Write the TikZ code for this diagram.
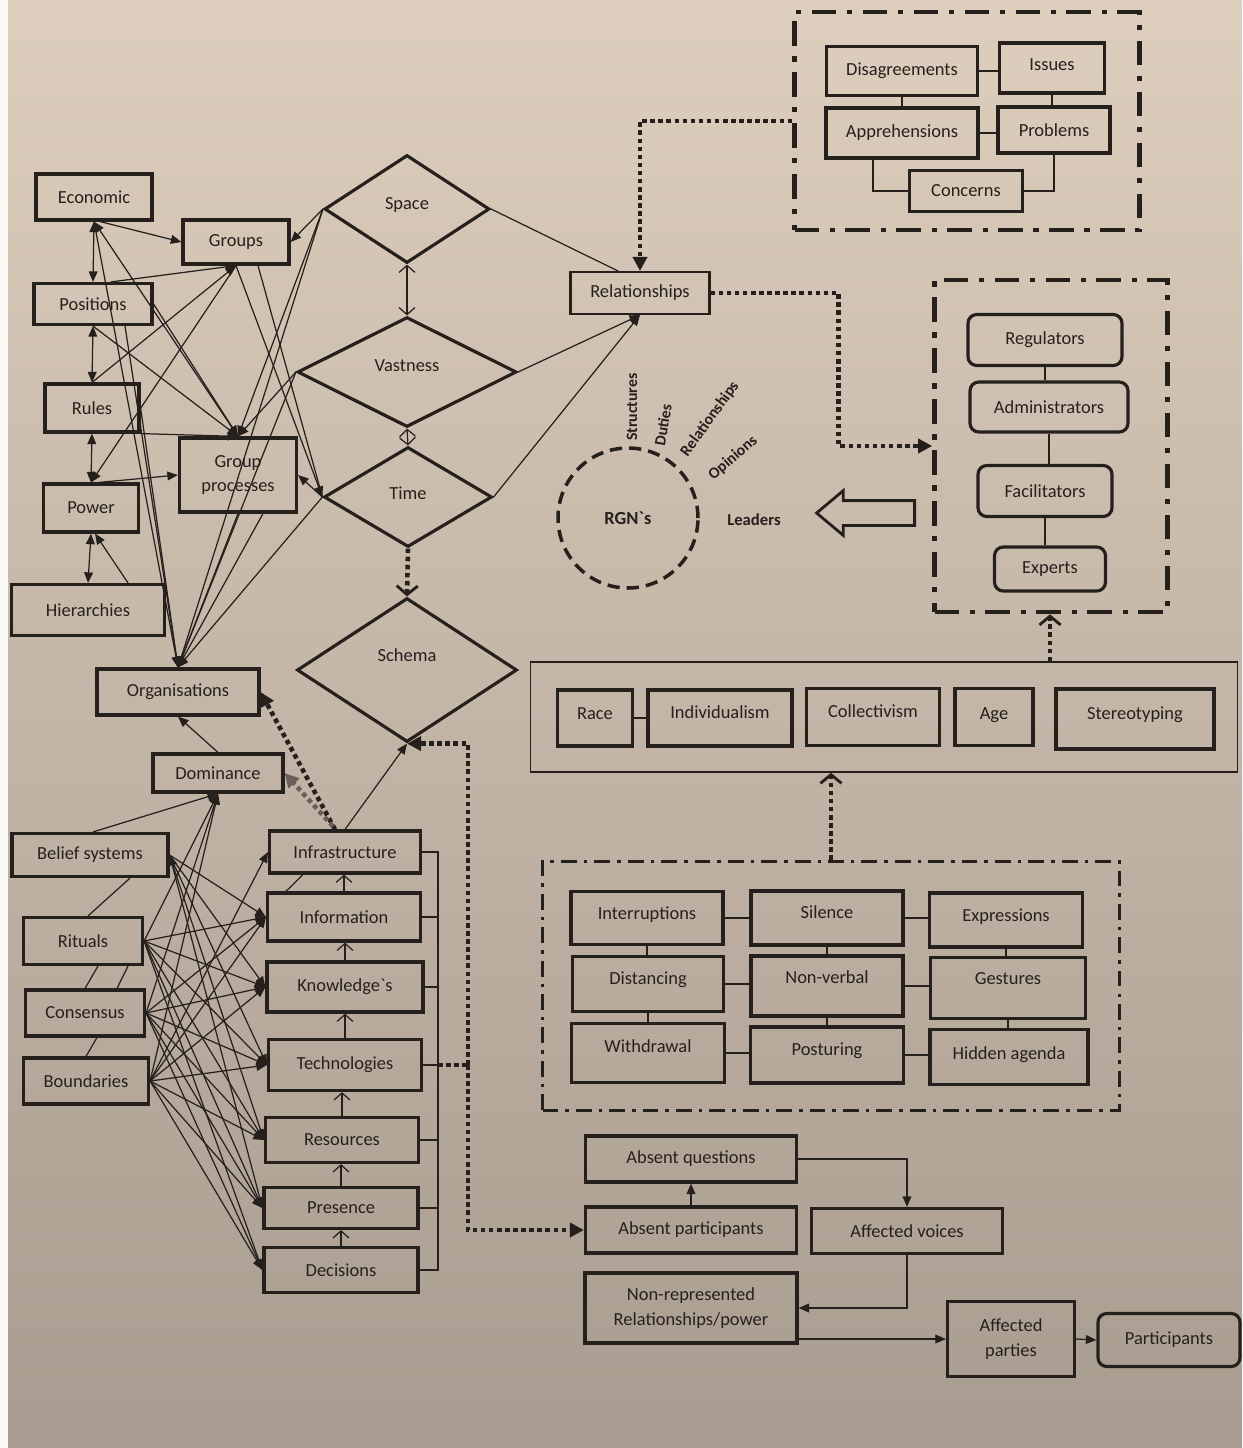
\documentclass[tikz,border=0pt]{standalone}
\usepackage{fontspec}
\setmainfont{Carlito}
\usepackage{tikz}
\usetikzlibrary{positioning, arrows.meta, shapes.geometric, shapes.arrows, calc}
\definecolor{ink}{RGB}{38,32,29}
\definecolor{papertop}{RGB}{221,206,189}
\definecolor{paperbot}{RGB}{168,156,144}
\definecolor{greydot}{RGB}{105,96,90}
\tikzset{sz/.style 2 args={minimum width=#1*0.02cm, minimum height=#2*0.02cm}}

\begin{document}
\begin{tikzpicture}
[x=0.02cm, y=-0.02cm,
 box/.style={rectangle, draw=ink, line width=1.8pt, inner sep=0pt, text=ink, align=center,
   font=\fontsize{10.5}{14}\selectfont},
 rbox/.style={box, rounded corners=5pt},
 lift/.style={text height=7pt, text depth=#1},
 dia/.style={diamond, draw=ink, line width=1.8pt, inner sep=0pt, text=ink,
   font=\fontsize{10.5}{14}\selectfont},
 dashframe/.style={rectangle, draw=ink, line width=2.6pt, dash pattern=on 14pt off 6pt on 3pt off 6pt},
 dashframeb/.style={rectangle, draw=ink, line width=1.8pt, dash pattern=on 9pt off 4pt on 2pt off 4pt},
 ln/.style={draw=ink, line width=0.7pt},
 tri/.style={ln, -{Triangle[length=6pt,width=5pt]}},
 tritri/.style={ln, {Triangle[length=6pt,width=5pt]}-{Triangle[length=6pt,width=5pt]}},
 barb/.style={ln, -{Straight Barb[length=4pt,width=9pt]}},
 barbbarb/.style={ln, {Straight Barb[length=4pt,width=9pt]}-{Straight Barb[length=4pt,width=9pt]}},
 dotln/.style={draw=ink, line width=2.6pt, dash pattern=on 2.6pt off 2pt},
 dottri/.style={dotln, -{Triangle[length=8pt,width=8pt]}},
 dotbarb/.style={dotln, -{Straight Barb[length=5pt,width=12pt,line width=1.6pt]}},
 lab/.style={text=ink, font=\bfseries\fontsize{9}{11}\selectfont}]
% paper
\shade[top color=papertop, bottom color=paperbot] (0,0) rectangle (1242,1448);
\fill[white!85!papertop] (0,0) rectangle (8,1448);
\useasboundingbox (0,0) rectangle (1242,1448);

% upper left
\node[box, sz={116}{46}] (econ) at (94,197) {Economic};
\node[box, sz={106}{44}] (grp) at (236,242) {Groups};
\node[box, sz={118}{41}] (pos) at (93,304) {Positions};
\node[box, sz={94}{48}] (rules) at (92,408) {Rules};
\node[box, sz={117}{74}] (gp) at (238,475) {Group\\processes};
\node[box, sz={95}{48}] (power) at (91,508) {Power};
\node[box, sz={153}{51}] (hier) at (88,610) {Hierarchies};
\node[box, sz={162}{46}] (org) at (178,692) {Organisations};
\node[box, sz={130}{38}] (dom) at (218,773) {Dominance};
\node[box, sz={156}{43}] (belief) at (90,855) {Belief systems};
\node[box, sz={119}{47}] (rit) at (83,941) {Rituals};
\node[box, sz={119}{46}] (cons) at (85,1013) {Consensus};
\node[box, sz={125}{46}] (bound) at (86,1081) {Boundaries};
% column
\node[box, sz={151}{42}] (infra) at (345,852) {Infrastructure};
\node[box, sz={153}{48}] (info) at (344,917) {Information};
\node[box, sz={156}{50}] (know) at (345,987) {Knowledge\textasciigrave s};
\node[box, sz={153}{51}] (tech) at (345,1065) {Technologies};
\node[box, sz={153}{45}] (res) at (342,1140) {Resources};
\node[box, sz={154}{41}] (pres) at (341,1208) {Presence};
\node[box, sz={154}{45}] (dec) at (341,1270) {Decisions};
% diamonds
\node[dia, lift=6pt, sz={165}{108}] (space) at (407,209) {Space};
\node[dia, lift=8pt, sz={219}{110}] (vast) at (407,372) {Vastness};
\node[dia, lift=4.5pt, sz={168}{100}] (time) at (408,497) {Time};
\node[dia, lift=17pt, sz={220}{144}] (schema) at (407,670) {Schema};

% right side
\node[box, line width=1.2pt, sz={139}{42}] (rel) at (640,293) {Relationships};
\node[dashframe, sz={345}{218}] (fr1) at (967,121) {};
\node[box, sz={151}{49}] (dis) at (902,71) {Disagreements};
\node[box, lift=4pt, sz={105}{50}] (iss) at (1052,68) {Issues};
\node[box, sz={152}{50}] (appr) at (902,133) {Apprehensions};
\node[box, sz={112}{46}] (prob) at (1054,130) {Problems};
\node[box, sz={113}{41}] (conc) at (966,191) {Concerns};

\node[dashframe, sz={233}{332}] (fr2) at (1051,446) {};
\node[rbox, sz={154}{51}] (reg) at (1045,340) {Regulators};
\node[rbox, sz={158}{50}] (adm) at (1049,407) {Administrators};
\node[rbox, sz={134}{51}] (fac) at (1045,491) {Facilitators};
\node[rbox, sz={111}{44}] (exp) at (1050,569) {Experts};

\node[circle, draw=ink, line width=2pt, dash pattern=on 7pt off 4pt, sz={140}{140}, text=ink,
  font=\bfseries\fontsize{10.5}{12}\selectfont] (rgn) at (628,518) {RGN\textasciigrave s};
\node[lab, font=\bfseries\fontsize{9.5}{11}\selectfont] (lead) at (754,520) {Leaders};
\node[lab, rotate=90] (lstr) at (632,407) {Structures};
\node[lab, rotate=80] (lduty) at (663,425) {Duties};
\node[lab, rotate=54] (lrel) at (710,419) {Relationships};
\node[lab, rotate=41] (lopin) at (733,458) {Opinions};
\node[single arrow, draw=ink, line width=1.6pt, shape border rotate=180, inner sep=0.22cm,
  single arrow head extend=0.2cm, single arrow tip angle=80, sz={42}{98}] (bigarr) at (873,513) {};

\node[rectangle, draw=ink, line width=0.8pt, sz={707}{110}] (bar) at (884,717) {};
\node[box, lift=5.6pt, sz={75}{56}] (race) at (595,718) {Race};
\node[box, lift=6.8pt, sz={144}{56}] (indiv) at (720,718) {Individualism};
\node[box, lift=6.8pt, sz={133}{57}] (coll) at (873,717) {Collectivism};
\node[box, lift=4.5pt, sz={78}{57}] (age) at (994,717) {Age};
\node[box, lift=6.8pt, sz={158}{60}] (stereo) at (1135,719) {Stereotyping};

\node[dashframeb, sz={577}{249}] (fr3) at (831,986) {};
\node[box, lift=5.6pt, sz={152}{53}] (intr) at (647,918) {Interruptions};
\node[box, lift=6.8pt, sz={152}{54}] (sil) at (827,918) {Silence};
\node[box, lift=5.6pt, sz={153}{54}] (expr) at (1006,920) {Expressions};
\node[box, lift=6.8pt, sz={151}{55}] (dist) at (648,984) {Distancing};
\node[box, lift=10pt, sz={152}{60}] (nonv) at (827,986) {Non-verbal};
\node[box, lift=11pt, sz={155}{61}] (gest) at (1008,988) {Gestures};
\node[box, lift=8pt, sz={153}{59}] (withd) at (648,1053) {Withdrawal};
\node[box, lift=6.8pt, sz={153}{56}] (post) at (827,1055) {Posturing};
\node[box, lift=4.5pt, sz={158}{55}] (hidden) at (1009,1057) {Hidden agenda};

% bottom flow
\node[box, sz={211}{46}] (aq) at (691,1159) {Absent questions};
\node[box, sz={211}{46}] (ap) at (691,1230) {Absent participants};
\node[box, sz={191}{45}] (av) at (907,1231) {Affected voices};
\node[box, sz={212}{70}] (nr) at (691,1308) {Non-represented\\Relationships/power};
\node[box, sz={127}{75}] (apar) at (1011,1339) {Affected\\parties};
\node[rbox, sz={142}{53}] (part) at (1169,1340) {Participants};

\coordinate (brtop) at (438,852);
\coordinate (brbot) at (438,1270);
\coordinate (jt) at (468,1065);

% upper left web
\draw[tritri] (econ.south) -- (pos.north);
\draw[tritri] (pos.south) -- (rules.north);
\draw[tritri] (rules.south) -- (power.north);
\draw[tritri] (power.south) -- (hier.north);
\draw[tri] ($(hier.north)+(40,0)$) -- ($(power.south)+(4,0)$);
\draw[tri] ($(econ.south)+(6,0)$) -- (grp.west);
\draw[tritri] (econ.south) -- (gp.north);
\draw[tri] (econ.south) -- (org.north);
\draw[tri] ($(pos.north)+(18,0)$) -- (grp.south);
\draw[tri] (pos.east) -- (gp.north);
\draw[tri] (pos.south) -- (gp.north);
\draw[tri] ($(pos.south)+(32,0)$) -- (org.north);
\draw[tri] (rules.north) -- (grp.south);
\draw[tri] (rules.south east) -- (gp.north);
\draw[tri] (grp.south) -- (power.north);
\draw[tri] (rules.east) -- (org.north);
\draw[tri] ($(power.north)+(8,0)$) -- (gp.west);
\draw[tri] (grp.south) -- (time.west);
\draw[ln] ($(grp.south)+(22,0)$) -- (time.west);
\draw[tri] (space.west) -- (grp.east);
\draw[tri] (space.west) -- (gp.north);
\draw[tri] (space.west) -- (org.north);
\draw[tri] (vast.west) -- (gp.north);
\draw[tri] (vast.west) -- (org.north);
\draw[tri] (time.west) -- (gp.east);
\draw[tri] (time.west) -- (org.north);
\draw[tri] (gp.south) -- (org.north);
\draw[tri] ($(gp.south)+(25,0)$) -- (org.north);
\draw[ln] (space.east) -- ($(rel.north)+(-22,0)$);
\draw[tri] (vast.east) -- (rel.south);
\draw[tri] (time.east) -- (rel.south);
\draw[barbbarb] (space.south) -- (vast.north);
\draw[barbbarb] (vast.south) -- (time.north);
\draw[dotbarb] (time.south) -- (schema.north);
\draw[tri] (infra.north) -- (schema.south);
\draw[dottri] ($(infra.north)+(-10,0)$) -- (org.east);
\draw[dottri, draw=greydot] ($(infra.north)+(-12,-3)$) -- (dom.east);
\draw[tri] (dom.north) -- (org.south);

% lower left web
\draw[tri] ($(belief.north)+(3,0)$) -- (dom.south);
\foreach \src in {rit, cons, bound}
  \draw[tri] (\src.east) -- (dom.south);
\foreach \tgt in {info, know, tech, pres}
  \draw[tri] (belief.east) -- (\tgt.west);
\draw[tritri] (belief.east) -- (res.west);
\foreach \src in {rit, cons, bound}
  \foreach \tgt in {info, know, tech, res, pres, dec}
    \draw[tri] (\src.east) -- (\tgt.west);
\draw[tri] (bound.east) -- (infra.west);
\draw[ln] ($(belief.south)+(40,0)$) -- ($(rit.north)+(5,0)$);
\draw[ln] ($(rit.south)+(15,0)$) -- ($(cons.north)+(0,0)$);
\draw[ln] ($(rit.south)+(45,0)$) -- ($(cons.north)+(32,0)$);
\draw[ln] ($(cons.south)+(12,0)$) -- (bound.north);
\draw[ln] ($(info.north west)+(20,0)$) -- ($(infra.south west)+(35,0)$);

% column
\foreach \a/\b in {info/infra, know/info, tech/know, res/tech, pres/res, dec/pres}
  \draw[barb] (\a.north) -- (\a.north |- \b.south);
\draw[ln] (infra.east) -- (brtop) -- (brbot) -- (dec.east);
\foreach \n in {info, know, tech, res, pres}
  \draw[ln] (\n.east) -- (\n.east -| brtop);
\draw[dotln] (tech.east -| brtop) -- (jt);
\draw[dottri] (jt) |- (schema.south);
\draw[dottri] (jt) |- (ap.west);

% right side links
\draw[dottri] (fr1.west) -| (rel.north);
\draw[dottri] (rel.east) -- ++(128,0) |- (fr2.west);
\draw[ln] (dis.east) -- (dis.east -| iss.west);
\draw[ln] (appr.east) -- (appr.east -| prob.west);
\draw[ln] (dis.south) -- (appr.north);
\draw[ln] (iss.south) -- (iss.south |- prob.north);
\draw[ln] ($(appr.south)+(-29,0)$) |- (conc.west);
\draw[ln] (prob.south) |- (conc.east);
\draw[ln] (reg.south) -- (reg.south |- adm.north);
\draw[ln] (adm.south) -- (adm.south |- fac.north);
\draw[ln] (fac.south) -- (fac.south |- exp.north);
\draw[dotbarb] (exp.south |- bar.north) -- (exp.south |- fr2.south);
\draw[ln] (race.east) -- (indiv.west);
\draw[dotbarb] (fr3.north) -- (fr3.north |- bar.south);
\foreach \a/\b in {intr/sil, sil/expr, dist/nonv, nonv/gest, withd/post, post/hidden}
  \draw[ln] (\a.east) -- (\a.east -| \b.west);
\foreach \a/\b in {intr/dist, dist/withd, sil/nonv, nonv/post, expr/gest, gest/hidden}
  \draw[ln] (\a.south) -- (\a.south |- \b.north);

% bottom flow
\draw[tri] (ap.north) -- (ap.north |- aq.south);
\draw[tri] (aq.east) -| (av.north);
\draw[tri] (av.south) |- (nr.east);
\draw[tri] (nr.east |- apar.west) -- (apar.west);
\draw[tri] (apar.east) -- (part.west);

\end{tikzpicture}
\end{document}
